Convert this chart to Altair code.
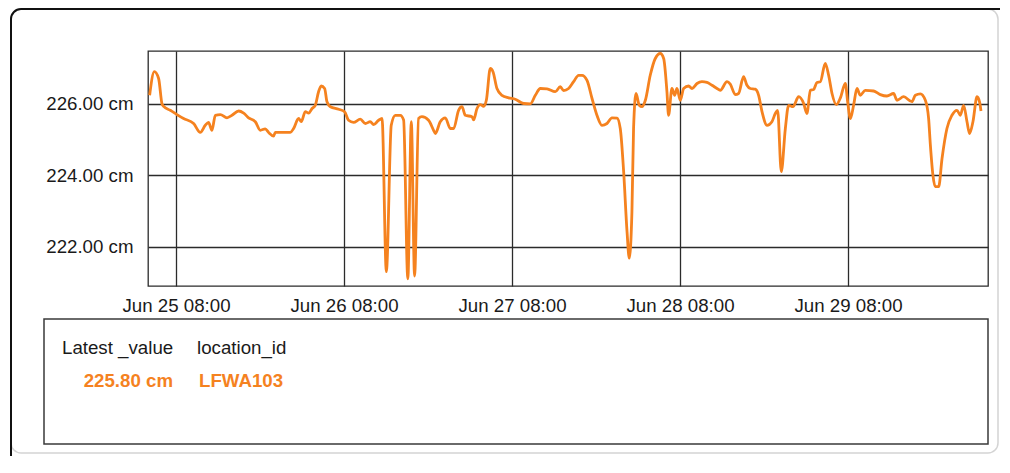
import altair as alt
import pandas as pd

# ---- data ----
times = [
    "06-25 04:14", "06-25 04:54", "06-25 05:31", "06-25 06:00", "06-25 06:14", "06-25 07:11",
    "06-25 08:08", "06-25 09:05", "06-25 10:31", "06-25 11:28", "06-25 12:11", "06-25 12:39",
    "06-25 13:08", "06-25 13:37", "06-25 14:20", "06-25 15:17", "06-25 16:00", "06-25 16:57",
    "06-25 17:40", "06-25 18:22", "06-25 19:20", "06-25 20:03", "06-25 20:45", "06-25 21:14",
    "06-25 21:57", "06-25 22:11", "06-26 00:20", "06-26 00:48", "06-26 01:31", "06-26 01:54",
    "06-26 02:28", "06-26 02:57", "06-26 03:26", "06-26 03:54", "06-26 04:22", "06-26 04:45",
    "06-26 05:14", "06-26 05:34", "06-26 06:03", "06-26 07:14", "06-26 08:05", "06-26 08:39",
    "06-26 09:22", "06-26 10:20", "06-26 11:03", "06-26 11:45", "06-26 12:14", "06-26 12:57",
    "06-26 13:26", "06-26 14:03", "06-26 14:45", "06-26 15:20", "06-26 16:03", "06-26 16:31",
    "06-26 17:07", "06-26 17:37", "06-26 18:05", "06-26 18:39", "06-26 19:08", "06-26 20:05",
    "06-26 20:48", "06-26 21:03", "06-26 21:45", "06-26 22:28", "06-26 23:11", "06-26 23:40",
    "06-27 00:22", "06-27 00:51", "06-27 01:20", "06-27 02:17", "06-27 02:31", "06-27 03:00",
    "06-27 03:28", "06-27 03:57", "06-27 04:20", "06-27 04:54", "06-27 05:17", "06-27 05:51",
    "06-27 06:34", "06-27 07:31", "06-27 08:28", "06-27 09:40", "06-27 10:37", "06-27 11:20",
    "06-27 12:03", "06-27 13:00", "06-27 14:11", "06-27 14:54", "06-27 15:22", "06-27 16:05",
    "06-27 16:48", "06-27 17:31", "06-27 18:00", "06-27 18:43", "06-27 19:26", "06-27 20:08",
    "06-27 20:51", "06-27 21:34", "06-27 22:17", "06-27 23:00", "06-27 23:28", "06-27 23:57",
    "06-28 00:26", "06-28 00:45", "06-28 01:08", "06-28 01:22", "06-28 01:43", "06-28 02:11",
    "06-28 02:34", "06-28 03:03", "06-28 03:45", "06-28 04:28", "06-28 05:11", "06-28 05:40",
    "06-28 06:08", "06-28 06:22", "06-28 06:51", "06-28 07:14", "06-28 07:34", "06-28 08:03",
    "06-28 08:31", "06-28 09:14", "06-28 09:43", "06-28 10:26", "06-28 11:08", "06-28 11:51",
    "06-28 12:34", "06-28 13:17", "06-28 13:45", "06-28 14:43", "06-28 15:11", "06-28 15:54",
    "06-28 16:22", "06-28 17:05", "06-28 17:34", "06-28 18:03", "06-28 18:45", "06-28 19:14",
    "06-28 19:43", "06-28 20:26", "06-28 21:08", "06-28 21:37", "06-28 21:57", "06-28 22:28",
    "06-28 23:03", "06-28 23:31", "06-29 00:08", "06-29 00:57", "06-29 01:40", "06-29 02:08",
    "06-29 02:37", "06-29 03:05", "06-29 03:34", "06-29 04:03", "06-29 04:45", "06-29 05:14",
    "06-29 05:43", "06-29 06:20", "06-29 06:54", "06-29 07:37", "06-29 07:57", "06-29 08:20",
    "06-29 08:48", "06-29 09:17", "06-29 09:45", "06-29 10:28", "06-29 11:40", "06-29 12:37",
    "06-29 13:34", "06-29 14:31", "06-29 15:00", "06-29 15:57", "06-29 17:08", "06-29 17:37",
    "06-29 18:20", "06-29 19:03", "06-29 19:31", "06-29 19:46", "06-29 20:08", "06-29 20:28",
    "06-29 20:57", "06-29 21:26", "06-29 22:08", "06-29 22:51", "06-29 23:34", "06-30 00:03",
    "06-30 00:31", "06-30 01:00", "06-30 01:22", "06-30 01:51", "06-30 02:26", "06-30 02:48",
    "06-30 03:00",
]
levels = [
    226.24, 226.90, 226.71, 226.00, 225.93, 225.82,
    225.70, 225.59, 225.45, 225.20, 225.40, 225.48,
    225.26, 225.68, 225.70, 225.61, 225.68, 225.80,
    225.74, 225.61, 225.50, 225.26, 225.30, 225.20,
    225.10, 225.20, 225.20, 225.31, 225.59, 225.50,
    225.78, 225.74, 225.87, 225.96, 226.34, 226.50,
    226.43, 226.06, 225.92, 225.85, 225.78, 225.54,
    225.48, 225.57, 225.45, 225.50, 225.42, 225.54,
    225.59, 221.30, 225.40, 225.68, 225.68, 225.55,
    221.10, 225.50, 221.18, 225.59, 225.64, 225.54,
    225.26, 225.17, 225.50, 225.61, 225.31, 225.31,
    225.82, 225.92, 225.68, 225.64, 225.55, 225.87,
    225.98, 225.93, 226.10, 226.99, 226.90, 226.43,
    226.24, 226.17, 226.13, 226.01, 226.00, 226.24,
    226.43, 226.42, 226.34, 226.48, 226.37, 226.43,
    226.62, 226.80, 226.80, 226.66, 226.15, 225.68,
    225.40, 225.45, 225.61, 225.60, 225.31, 224.10,
    222.42, 221.68, 222.98, 225.31, 226.29, 225.96,
    225.92, 226.10, 226.80, 227.27, 227.41, 227.27,
    226.34, 225.68, 226.43, 226.24, 226.43, 226.10,
    226.43, 226.50, 226.43, 226.57, 226.62, 226.60,
    226.52, 226.43, 226.38, 226.62, 226.55, 226.26,
    226.29, 226.76, 226.52, 226.43, 226.41, 226.24,
    225.78, 225.40, 225.50, 225.73, 225.82, 224.10,
    225.31, 225.96, 225.92, 226.20, 226.01, 225.73,
    226.38, 226.40, 226.60, 226.62, 227.13, 226.80,
    226.29, 225.98, 226.16, 226.57, 226.06, 225.59,
    225.96, 226.43, 226.24, 226.38, 226.36, 226.26,
    226.22, 226.29, 226.10, 226.20, 226.06, 226.24,
    226.28, 226.10, 225.59, 224.85, 224.00, 223.68,
    223.68, 224.47, 225.31, 225.68, 225.82, 225.68,
    225.96, 225.50, 225.17, 225.50, 226.20, 226.05,
    225.80,
]
location_id = "LFWA103"
headers = ["Latest _value", "location_id"]
y_ticks = [222, 224, 226]
x_tick_days = [25, 26, 27, 28, 29]
unit = "cm"

FONT = "Liberation Sans"
ORANGE = "#F5821F"
DARK = "#2b2b2b"
FS = 18.7

df = pd.DataFrame({
    "time": ["2024-" + t.replace(" ", "T") + ":00Z" for t in times],
    "level": levels,
})

x_enc = alt.X(
    "time:T",
    scale=alt.Scale(
        type="utc",
        domain=[
            alt.DateTime(year=2024, month=6, date=25, hours=4, utc=True),
            alt.DateTime(year=2024, month=6, date=30, hours=4, utc=True),
        ],
    ),
    axis=alt.Axis(
        title=None,
        values=[alt.DateTime(year=2024, month=6, date=d, hours=8, utc=True) for d in x_tick_days],
        labelExpr="utcFormat(datum.value, '%b %d %H:%M')",
        grid=True,
        gridColor=DARK,
        gridWidth=1.3,
        gridOpacity=1,
        ticks=False,
        domain=False,
        labelFont=FONT,
        labelFontSize=FS,
        labelColor="#1a1a1a",
        labelPadding=10,
        labelFlush=False,
        labelOverlap=False,
    ),
)
y_enc = alt.Y(
    "level:Q",
    scale=alt.Scale(domain=[220.9, 227.48], nice=False, zero=False),
    axis=alt.Axis(
        title=None,
        values=y_ticks,
        labelExpr="format(datum.value, '.2f') + ' " + unit + "'",
        grid=True,
        gridColor=DARK,
        gridWidth=1.3,
        gridOpacity=1,
        ticks=False,
        domain=False,
        labelFont=FONT,
        labelFontSize=FS,
        labelColor="#1a1a1a",
        labelPadding=15,
    ),
)

line = alt.Chart(df).mark_line(
    color=ORANGE, strokeWidth=2.8, clip=True, interpolate="monotone"
).encode(x=x_enc, y=y_enc)

one = pd.DataFrame({"k": [0]})

# outer frame: dark on top/left (right and bottom run past the canvas edge), light on right/bottom
frame_light = alt.Chart(one).mark_rect(
    fill=None, fillOpacity=0, stroke="#d4d4d4", strokeWidth=1.5, cornerRadius=10
).encode(x=alt.value(-137), x2=alt.value(850), y=alt.value(-42), y2=alt.value(402))
frame_dark = alt.Chart(one).mark_rect(
    fill=None, fillOpacity=0, stroke="#111111", strokeWidth=2, cornerRadius=10
).encode(x=alt.value(-137), x2=alt.value(900), y=alt.value(-42), y2=alt.value(520))

# table box
box = alt.Chart(one).mark_rect(
    fill=None, fillOpacity=0, stroke="#3a3a3a", strokeWidth=1.5
).encode(x=alt.value(-104), x2=alt.value(840), y=alt.value(268), y2=alt.value(393))

table = pd.DataFrame({
    "header": headers,
    "value": [f"{levels[-1]:.2f} {unit}", location_id],
})

def txt(row, field, x, align, bold, color, y):
    return alt.Chart(table.iloc[[row]]).mark_text(
        align=align, baseline="alphabetic", font=FONT, fontSize=FS,
        fontWeight="bold" if bold else "normal", color=color,
    ).encode(text=alt.Text(f"{field}:N"), x=alt.value(x), y=alt.value(y))

texts = [
    txt(0, "header", -86, "left", False, "#1a1a1a", 303),
    txt(1, "header", 49, "left", False, "#1a1a1a", 303),
    txt(0, "value", 25, "right", True, ORANGE, 336),
    txt(1, "value", 51, "left", True, ORANGE, 336),
]

chart = alt.layer(frame_light, frame_dark, line, box, *texts).properties(
    width=840,
    height=235,
    padding={"left": 140, "top": 43, "right": 12, "bottom": 170},
    autosize=alt.AutoSizeParams(type="none"),
    background="white",
).configure_view(stroke=DARK, strokeWidth=1.3)

chart.save("out.html", embed_options={"renderer": "svg", "actions": False})
